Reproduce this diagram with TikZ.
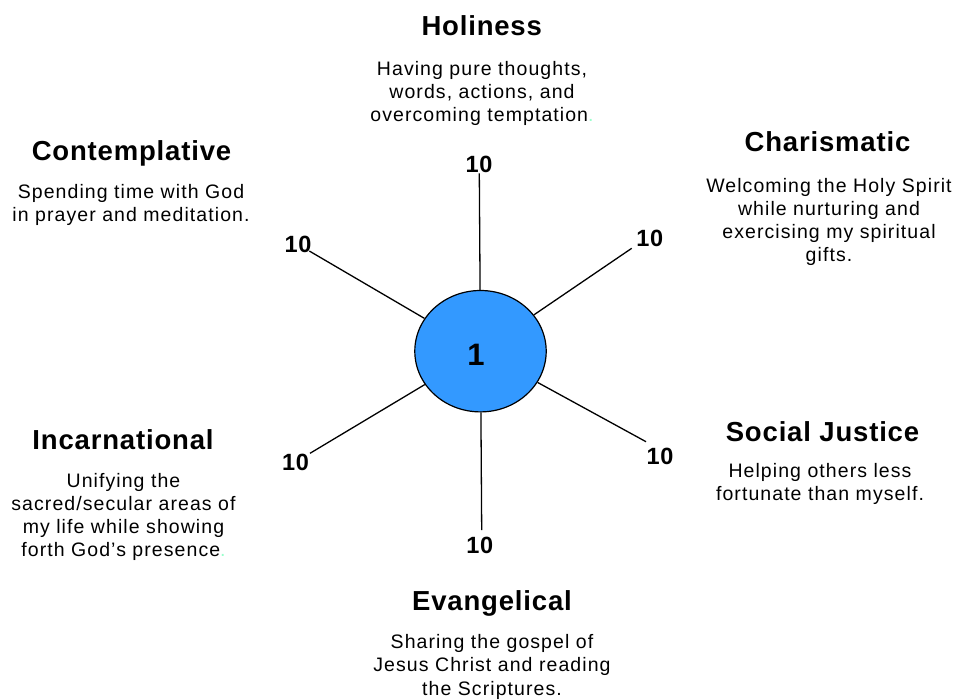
\documentclass[tikz,border=0pt]{standalone}
\usepackage{fontspec}
\usetikzlibrary{shapes.geometric}
\setmainfont{Liberation Sans}
\newfontfamily\bodyfont[LetterSpace=5.5]{Liberation Sans}
\newfontfamily\headfont[LetterSpace=3]{Liberation Sans}
\definecolor{corefill}{HTML}{3399FF}
\definecolor{mint}{HTML}{99FFCC}

\begin{document}
\begin{tikzpicture}[x=1pt,y=-1pt,
  heading/.style={font=\headfont\bfseries\fontsize{27.5}{31}\selectfont, inner sep=0, anchor=base},
  body/.style={font=\bodyfont\fontsize{19.5}{23.3}\selectfont, align=center, inner sep=0, anchor=north},
  score/.style={font=\headfont\bfseries\fontsize{23.5}{27}\selectfont, inner sep=0},
  spoke/.style={line width=1.3pt, black}]
\useasboundingbox (0,0) rectangle (956,699);

% central hub
\node[ellipse, draw, line width=1.2pt, fill=corefill, inner sep=0,
      minimum width=131.4, minimum height=121.4] (core) at (480.5,351.2) {};
\node[font=\headfont\bfseries\fontsize{31}{34}\selectfont, inner sep=0] (one) at (476,354.5) {1};

% outer ends of the spokes
\coordinate (tN)  at (479.3,173.3);
\coordinate (tNE) at (631.7,248.3);
\coordinate (tNW) at (309.3,251);
\coordinate (tSW) at (310,453.3);
\coordinate (tSE) at (646,441.7);
\coordinate (tS)  at (481.7,530);

\foreach \e in {tN,tNE,tNW,tSW,tSE,tS}
  \draw[spoke] (core) -- (\e);

% scale values
\node[score] (sN)  at (479,164)     {10};
\node[score] (sNE) at (649.7,238)   {10};
\node[score] (sNW) at (298,244)     {10};
\node[score] (sSW) at (295.5,462)   {10};
\node[score] (sSE) at (660,456.5)   {10};
\node[score] (sS)  at (479.7,545)   {10};

% Holiness
\node[heading] (hHol) at (481.7,35) {Holiness};
\node[body] (bHol) at (482,61) {Having pure thoughts,\\ words, actions, and\\ overcoming temptation{\color{mint}.}};

% Contemplative
\node[heading] (hCon) at (131.5,160) {Contemplative};
\node[body] (bCon) at (131,184) {Spending time with God\\ in prayer and meditation.};

% Charismatic
\node[heading] (hCha) at (827.5,151.7) {Charismatic};
\node[body] (bCha) at (829,177.7) {Welcoming the Holy Spirit\\ while nurturing and\\ exercising my spiritual\\ gifts.};

% Social Justice
\node[heading] (hSoc) at (822.5,441.7) {Social Justice};
\node[body] (bSoc) at (820,462.7) {Helping others less\\ fortunate than myself.};

% Incarnational
\node[heading] (hInc) at (123,449) {Incarnational};
\node[body] (bInc) at (123.5,472.7) {Unifying the\\ sacred/secular areas of\\ my life while showing\\ forth God’s presence{\color{mint}.}};

% Evangelical
\node[heading] (hEva) at (492,610) {Evangelical};
\node[body] (bEva) at (492,634.3) {Sharing the gospel of\\ Jesus Christ and reading\\ the Scriptures.};
\end{tikzpicture}
\end{document}
